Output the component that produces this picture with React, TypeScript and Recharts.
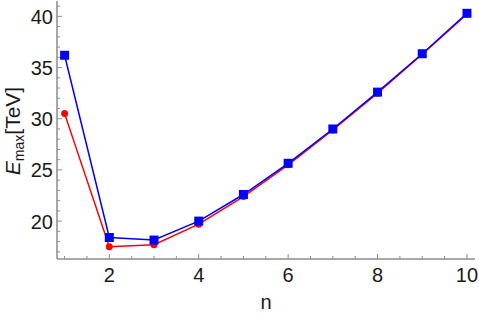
import { LineChart, Line, XAxis, YAxis } from 'recharts';

// n values and E_max (TeV) for the two series
const nValues = [1, 2, 3, 4, 5, 6, 7, 8, 9, 10];
const redSeries = [30.5, 17.5, 17.7, 19.7, 22.4, 25.5, 28.9, 32.5, 36.3, 40.2];
const blueSeries = [36.2, 18.4, 18.15, 20.0, 22.6, 25.65, 29.0, 32.6, 36.35, 40.3];

const xMajor = [2, 4, 6, 8, 10];
const xTicks = [1, 1.5, 2, 2.5, 3, 3.5, 4, 4.5, 5, 5.5, 6, 6.5, 7, 7.5, 8, 8.5, 9, 9.5, 10];
const yMajor = [20, 25, 30, 35, 40];
const yTicks = [17, 18, 19, 20, 21, 22, 23, 24, 25, 26, 27, 28, 29, 30, 31, 32, 33, 34, 35, 36, 37, 38, 39, 40, 41];

const data = nValues.map((n, i) => ({ n, red: redSeries[i], blue: blueSeries[i] }));

const FRAME = '#8c8c8c';
const FONT = '"Liberation Sans", Arial, sans-serif';

// ticks drawn inside the frame, Mathematica style
const BottomTick = (props: any) => {
  const { x, y, payload } = props;
  const major = xMajor.includes(payload.value);
  return (
    <g>
      <line x1={x} x2={x} y1={y} y2={y - (major ? 5 : 3)} stroke={FRAME} />
      {major && (
        <text x={x} y={y + 23} textAnchor="middle" fontSize={20} fill="#1a1a1a" fontFamily={FONT}>
          {payload.value}
        </text>
      )}
    </g>
  );
};

const TopTick = (props: any) => {
  const { x, y, payload } = props;
  const major = xMajor.includes(payload.value);
  return <line x1={x} x2={x} y1={y} y2={y + (major ? 5 : 3)} stroke={FRAME} />;
};

const LeftTick = (props: any) => {
  const { x, y, payload } = props;
  const major = yMajor.includes(payload.value);
  return (
    <g>
      <line x1={x} x2={x + (major ? 5 : 3)} y1={y} y2={y} stroke={FRAME} />
      {major && (
        <text x={x - 4} y={y + 7.5} textAnchor="end" fontSize={20} fill="#1a1a1a" fontFamily={FONT}>
          {payload.value}
        </text>
      )}
    </g>
  );
};

const RightTick = (props: any) => {
  const { x, y, payload } = props;
  const major = yMajor.includes(payload.value);
  return <line x1={x} x2={x - (major ? 5 : 3)} y1={y} y2={y} stroke={FRAME} />;
};

const Square = (props: any) => {
  const { cx, cy, index } = props;
  return <rect key={index} x={cx - 4.5} y={cy - 4.5} width={9} height={9} fill="#0000ff" />;
};

export default function App() {
  return (
    <div style={{ position: 'absolute', left: 0, top: 0 }}>
      <LineChart width={479} height={314} data={data} margin={{ top: 1, right: 4, bottom: 0, left: 0 }}>
        <XAxis
          dataKey="n"
          type="number"
          domain={[0.83, 10.18]}
          ticks={xTicks}
          tick={<BottomTick />}
          tickSize={0}
          tickMargin={0}
          tickLine={false}
          axisLine={{ stroke: FRAME, strokeWidth: 1.5 }}
          height={55}
          interval={0}
          allowDataOverflow
          label={{
            content: () => (
              <text x={266} y={309} textAnchor="middle" fontSize={20} fill="#1a1a1a" fontFamily={FONT}>
                n
              </text>
            ),
          }}
        />
        <XAxis
          xAxisId="top"
          orientation="top"
          dataKey="n"
          type="number"
          domain={[0.83, 10.18]}
          ticks={xTicks}
          tick={<TopTick />}
          tickSize={0}
          tickMargin={0}
          tickLine={false}
          axisLine={{ stroke: FRAME, strokeWidth: 1.5 }}
          height={0}
          interval={0}
          allowDataOverflow
        />
        <YAxis
          type="number"
          domain={[16.3, 41.5]}
          ticks={yTicks}
          tick={<LeftTick />}
          tickSize={0}
          tickMargin={0}
          tickLine={false}
          axisLine={{ stroke: FRAME, strokeWidth: 1.5 }}
          width={57}
          interval={0}
          allowDataOverflow
          label={{
            content: () => (
              <text
                transform="translate(20,131) rotate(-90)"
                textAnchor="middle"
                fontSize={21}
                fill="#1a1a1a"
                fontFamily={FONT}
              >
                <tspan fontStyle="italic">E</tspan>
                <tspan fontSize={14} dy={4}>max</tspan>
                <tspan dy={-4}>[TeV]</tspan>
              </text>
            ),
          }}
        />
        <YAxis
          yAxisId="right"
          orientation="right"
          type="number"
          domain={[16.3, 41.5]}
          ticks={yTicks}
          tick={<RightTick />}
          tickSize={0}
          tickMargin={0}
          tickLine={false}
          axisLine={{ stroke: FRAME, strokeWidth: 1.5 }}
          width={0}
          interval={0}
          allowDataOverflow
        />
        <Line
          dataKey="red"
          stroke="#ff0000"
          strokeWidth={1.5}
          dot={{ r: 3.5, fill: '#ff0000', stroke: '#ff0000', strokeWidth: 0 }}
          isAnimationActive={false}
        />
        <Line
          dataKey="blue"
          stroke="#0000ff"
          strokeWidth={1.5}
          dot={<Square />}
          isAnimationActive={false}
        />
      </LineChart>
    </div>
  );
}
